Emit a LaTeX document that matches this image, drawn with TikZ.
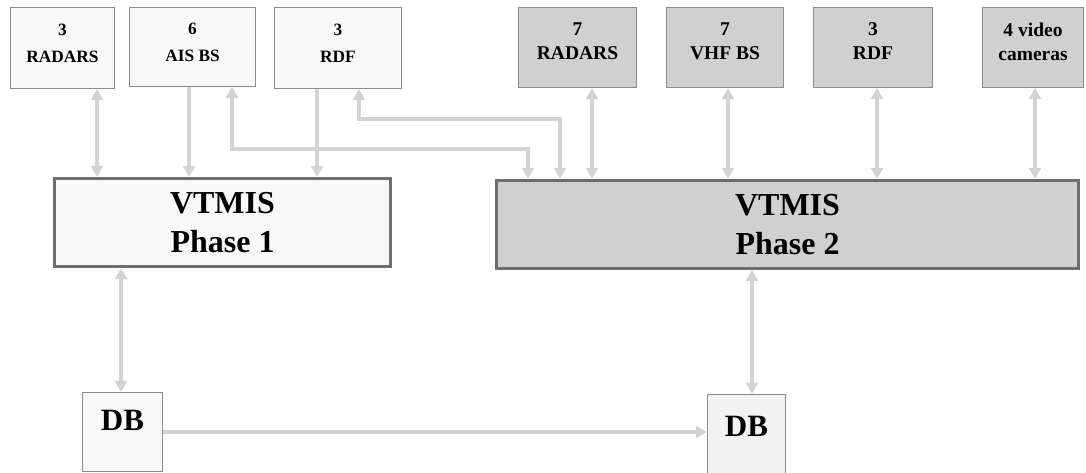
\documentclass[tikz,border=0pt]{standalone}
\usepackage{fontspec}
\setmainfont{Liberation Serif}
\usetikzlibrary{arrows.meta, positioning}
\definecolor{lightbox}{HTML}{F8F8F8}
\definecolor{graybox}{HTML}{D0D0D0}
\definecolor{dbfill}{HTML}{F2F2F2}
\definecolor{thinedge}{HTML}{8C8C8C}
\definecolor{thickedge}{HTML}{6E6E6E}
\definecolor{linkgray}{HTML}{D3D3D3}
\tikzset{
	oldsrc/.style={draw=thinedge, line width=1pt, fill=lightbox, align=center, inner sep=0pt,
		text depth=9pt, font=\fontsize{17.3}{27}\selectfont\bfseries}
}
\tikzset{
	newsrc/.style={oldsrc, fill=graybox, text depth=12pt, font=\fontsize{19.5}{24}\selectfont\bfseries}
}
\tikzset{
	phasebox/.style={draw=thickedge, line width=3.3pt, align=center, inner sep=0pt,
		text depth=-9pt, font=\fontsize{32}{38.5}\selectfont\bfseries},
	dbbox/.style={draw=thinedge, line width=1pt, inner sep=0pt, text depth=24pt,
		font=\fontsize{31}{36}\selectfont\bfseries},
	link/.style={draw=linkgray, line width=4pt, >={Triangle[width=12pt,length=11pt]}}
}

\begin{document}
\begin{tikzpicture}[x=1pt, y=1pt]
      \useasboundingbox (0,0) rectangle (1086,-473);

      % sensors of phase 1
      \node[oldsrc, minimum width=104pt, minimum height=81pt] (radars1) at (62.5,-48) {3\\RADARS};
      \node[oldsrc, minimum width=126pt, minimum height=79pt] (aisbs) at (192.5,-47) {6\\AIS BS};
      \node[oldsrc, minimum width=127pt, minimum height=81pt] (rdf1) at (338,-48) {3\\RDF};

      % sensors of phase 2
      \node[newsrc, minimum width=118pt, minimum height=80pt] (radars2) at (577.5,-47.5) {7\\RADARS};
      \node[newsrc, minimum width=117pt, minimum height=80pt] (vhfbs) at (725,-47.5) {7\\VHF BS};
      \node[newsrc, minimum width=119pt, minimum height=80pt] (rdf2) at (873,-47.5) {3\\RDF};
      \node[newsrc, minimum width=101pt, minimum height=80pt] (cams) at (1033,-47.5) {4 video\\cameras};

      % the two systems
      \node[phasebox, fill=lightbox, minimum width=336pt, minimum height=88pt] (phase1) at (222.5,-222.5) {VTMIS\\Phase 1};
      \node[phasebox, fill=graybox, minimum width=582pt, minimum height=88pt] (phase2) at (787.5,-224.5) {VTMIS\\Phase 2};

      % databases
      \node[dbbox, fill=lightbox, minimum width=80pt, minimum height=79pt] (db1) at (122.5,-432) {DB};
      \node[dbbox, fill=dbfill, minimum width=78pt, minimum height=88pt] (db2) at (746.5,-438) {DB};

      % links to phase 1
      \draw[link,<->] ([xshift=34.5pt]radars1.south) -- ([xshift=34.5pt]radars1.south |- phase1.north);
      \draw[link,->] ([xshift=-3.5pt]aisbs.south) -- ([xshift=-3.5pt]aisbs.south |- phase1.north);
      \draw[link,->] ([xshift=-21pt]rdf1.south) -- ([xshift=-21pt]rdf1.south |- phase1.north);

      % links of phase 1 sensors to phase 2
      \draw[link,<->] ([xshift=39.5pt]aisbs.south) -- ++(0,-62) -| ([xshift=-259.5pt]phase2.north);
      \draw[link,<->] ([xshift=21pt]rdf1.south) -- ++(0,-30) -| ([xshift=-227.5pt]phase2.north);

      % links to phase 2
      \draw[link,<->] ([xshift=14.5pt]radars2.south) -- ([xshift=14.5pt]radars2.south |- phase2.north);
      \draw[link,<->] ([xshift=3pt]vhfbs.south) -- ([xshift=3pt]vhfbs.south |- phase2.north);
      \draw[link,<->] ([xshift=4pt]rdf2.south) -- ([xshift=4pt]rdf2.south |- phase2.north);
      \draw[link,<->] ([xshift=2pt]cams.south) -- ([xshift=2pt]cams.south |- phase2.north);

      % databases
      \draw[link,<->] ([xshift=-1.5pt]db1.north |- phase1.south) -- ([xshift=-1.5pt]db1.north);
      \draw[link,<->] ([xshift=5.5pt]db2.north |- phase2.south) -- ([xshift=5.5pt]db2.north);
      \draw[link,->] (db1.east) -- (db1.east -| db2.west);
\end{tikzpicture}
\end{document}
